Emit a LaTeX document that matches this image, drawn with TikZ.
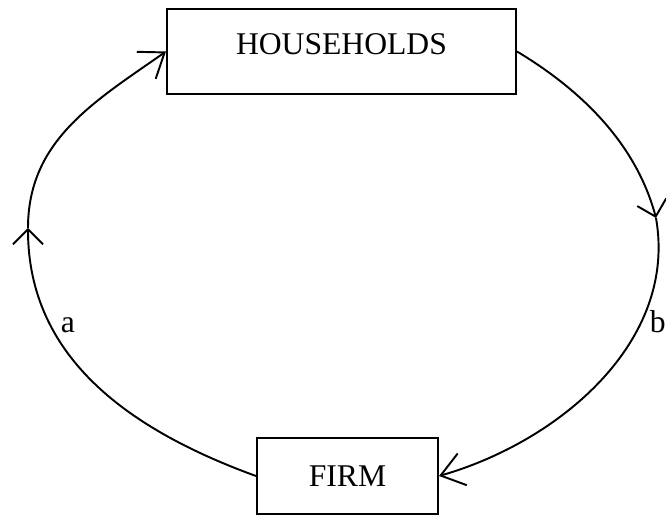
\documentclass[tikz,border=0pt]{standalone}
\usepackage{fontspec}
\setmainfont{Liberation Serif}
\usetikzlibrary{arrows.meta}

\tikzset{
	sector/.style={draw, line width=1.2pt, inner sep=0pt, font=\fontsize{18}{20}\selectfont},
	flow/.style={line width=1.1pt},
	midtip/.style={-{Straight Barb[length=3mm,width=6mm]}},
	endtip/.style={-{Straight Barb[length=4.5mm,width=6.6mm]}},
	lbl/.style={font=\fontsize{18}{20}\selectfont, inner sep=0pt}
}

\begin{document}
\begin{tikzpicture}[x=0.02cm, y=0.02cm]
			%%%%% START %%%%%
			\useasboundingbox (0,0) rectangle (666,516);
			
			\node[sector, minimum width=6.98cm, minimum height=1.7cm, text depth=8.5pt] (households) at (341.5,464.5) {HOUSEHOLDS};
			\node[sector, minimum width=3.62cm, minimum height=1.52cm] (firm) at (347.5,40) {FIRM};
			
			\coordinate (up) at (28,288);
			\coordinate (down) at (656,298);
			
			\draw[flow, midtip] (firm.west) to[out=160, in=-90] (up);
			\draw[flow, endtip] (up) to[out=90, in=215] (households.west);
			
			\draw[flow, midtip] (households.east) to[out=-31, in=105, looseness=0.9] (down);
			\draw[flow, endtip] (down) to[out=-80, in=16, looseness=0.95] (firm.east);
			
			\node[lbl] (a) at (68,191) {a};
			\node[lbl, anchor=east] (b) at (666,194) {b};
			%%%%% END %%%%%
\end{tikzpicture}
\end{document}
